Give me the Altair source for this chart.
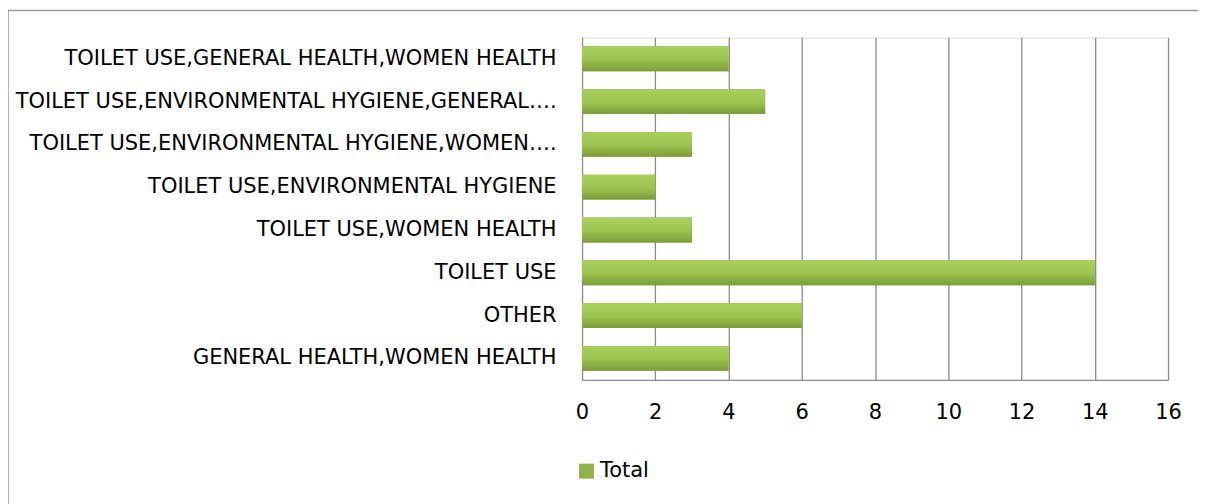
import altair as alt
import pandas as pd

categories = [
    "TOILET USE,GENERAL HEALTH,WOMEN HEALTH",
    "TOILET USE,ENVIRONMENTAL HYGIENE,GENERAL….",
    "TOILET USE,ENVIRONMENTAL HYGIENE,WOMEN….",
    "TOILET USE,ENVIRONMENTAL HYGIENE",
    "TOILET USE,WOMEN HEALTH",
    "TOILET USE",
    "OTHER",
    "GENERAL HEALTH,WOMEN HEALTH",
]
totals = [4, 5, 3, 2, 3, 14, 6, 4]
x_ticks = [0, 2, 4, 6, 8, 10, 12, 14, 16]
series_name = "Total"

df = pd.DataFrame({"category": categories, "value": totals, "series": series_name})

FONT = "DejaVu Sans"
W, H = 587, 343

grad = alt.Gradient(
    gradient="linear",
    stops=[
        alt.GradientStop(color="#a9cf5e", offset=0),
        alt.GradientStop(color="#9cc24f", offset=0.55),
        alt.GradientStop(color="#7c9c3a", offset=1),
    ],
    x1=0, x2=0, y1=0, y2=1,
)

x_enc = alt.X(
    "value:Q",
    scale=alt.Scale(domain=[0, 16], nice=False),
    axis=alt.Axis(
        values=x_ticks, title=None, ticks=False, grid=True, labelFlush=False,
        gridColor="#8c8c8c", gridWidth=1.3, domainColor="#8c8c8c", domainWidth=1.3,
        labelFont=FONT, labelFontSize=21, labelColor="#000", labelPadding=22,
    ),
)
y_enc = alt.Y(
    "category:N", sort=categories,
    scale=alt.Scale(paddingInner=0.42, paddingOuter=0.21),
    axis=alt.Axis(
        title=None, ticks=False, domain=False, labelLimit=700,
        labelFont=FONT, labelFontSize=21, labelColor="#000", labelPadding=26,
    ),
)

base_bars = alt.Chart(df).mark_bar().encode(
    x=x_enc, y=y_enc,
    color=alt.Color(
        "series:N",
        scale=alt.Scale(range=["#8fb348"]),
        legend=alt.Legend(
            title=None, orient="none", legendX=-6, legendY=424,
            symbolType="square", symbolSize=225, symbolStrokeWidth=0,
            labelFont=FONT, labelFontSize=21, labelColor="#000", labelOffset=3,
        ),
    ),
)
grad_bars = alt.Chart(df).mark_bar(fill=grad).encode(x=x_enc, y=y_enc)

border = alt.Chart(pd.DataFrame({"a": [0]})).mark_rect(
    filled=False, stroke="#9a9a9a", strokeWidth=1.5
).encode(
    x=alt.value(-575), x2=alt.value(W + 34),
    y=alt.value(-27), y2=alt.value(H + 140),
)

chart = alt.layer(border, base_bars, grad_bars).properties(
    width=W, height=H,
    autosize=alt.AutoSizeParams(type="none"),
    padding={"left": 575, "top": 29, "right": 30, "bottom": 124},
).configure_view(stroke=None).configure(background="white")

chart.save("out.html", embed_options={"renderer": "svg", "actions": False})
